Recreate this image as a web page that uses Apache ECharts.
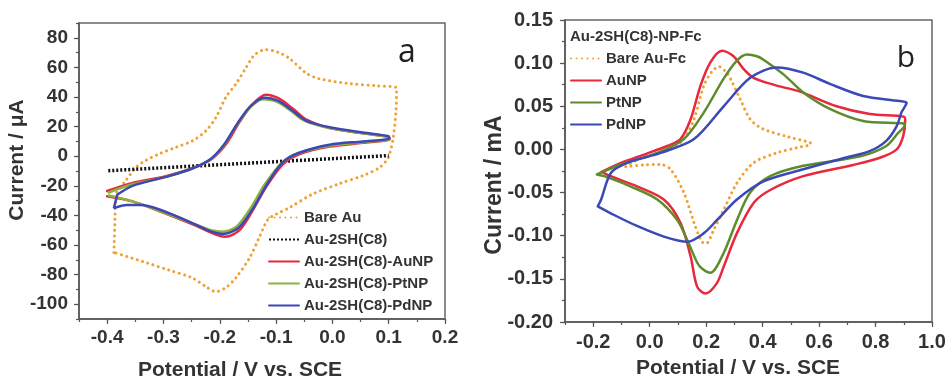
<!DOCTYPE html>
<html>
<head>
<meta charset="utf-8">
<script src="https://cdn.jsdelivr.net/npm/echarts@6/dist/echarts.min.js"></script>
<style>html,body{margin:0;padding:0;background:#fff}#c{width:951px;height:380px}</style>
</head>
<body>
<div id="c"></div>
<script>
// ---------- Panel a data (Potential V, Current µA) ----------
const aBareAu = [[-0.388,-65],[-0.386,-42],[-0.384,-25.5],[-0.367,-16.6],[-0.349,-7.6],[-0.332,-3],[-0.308,1.5],[-0.278,6],[-0.248,10.5],[-0.225,17],[-0.207,26],[-0.189,40],[-0.171,49],[-0.153,60],[-0.138,68.5],[-0.118,72],[-0.095,70],[-0.076,66],[-0.046,56],[-0.023,52.3],[0.031,49],[0.08,47.5],[0.114,46],[0.113,31],[0.108,12.5],[0.099,-1],[0.084,-7.6],[0.055,-13],[0.013,-18.5],[-0.035,-25.6],[-0.076,-34.7],[-0.100,-39.2],[-0.115,-43],[-0.130,-55],[-0.147,-68.6],[-0.171,-82],[-0.190,-89],[-0.207,-91.5],[-0.225,-88],[-0.250,-82],[-0.290,-77],[-0.330,-72],[-0.388,-65]];
const aC8 = [[-0.398,-9.8],[0.1,0.4]];
const aAuNP = [[-0.400,-23.5],[-0.355,-18],[-0.296,-13.5],[-0.248,-8],[-0.213,-1.5],[-0.189,8],[-0.165,23],[-0.142,35],[-0.118,41.5],[-0.095,39],[-0.070,32],[-0.045,24.5],[-0.005,19],[0.054,15.5],[0.100,13],[0.102,11.5],[0.054,9],[-0.005,6.5],[-0.058,1.5],[-0.088,-5.5],[-0.118,-21],[-0.142,-37],[-0.165,-50],[-0.190,-54.5],[-0.207,-53],[-0.248,-46],[-0.308,-37],[-0.355,-30.5],[-0.400,-27]];
const aPtNP = [[-0.397,-24.5],[-0.355,-19],[-0.296,-14],[-0.250,-8.5],[-0.215,-2],[-0.193,7],[-0.170,21],[-0.147,32.5],[-0.124,38.5],[-0.100,37],[-0.075,31],[-0.050,24],[-0.005,19],[0.054,15.5],[0.100,13],[0.101,11.5],[0.054,9.5],[-0.005,7],[-0.060,2],[-0.090,-4.5],[-0.120,-19],[-0.145,-35],[-0.170,-47.5],[-0.195,-51],[-0.215,-50],[-0.250,-45],[-0.310,-36.5],[-0.355,-30.5],[-0.397,-26.5]];
const aPdNP = [[-0.382,-26],[-0.355,-20],[-0.296,-14],[-0.250,-8.5],[-0.215,-1.5],[-0.192,8],[-0.168,22.5],[-0.145,34],[-0.120,39.5],[-0.097,37.5],[-0.072,31],[-0.047,24],[-0.005,19.5],[0.054,16],[0.100,13.5],[0.101,12],[0.054,10],[-0.005,7.8],[-0.058,2.5],[-0.088,-4],[-0.117,-19.5],[-0.142,-36],[-0.167,-48.5],[-0.195,-52.5],[-0.215,-51],[-0.250,-45],[-0.300,-37],[-0.340,-33],[-0.365,-33],[-0.388,-35],[-0.382,-26]];

// ---------- Panel b data (Potential V, Current mA) ----------
const bBareAuFc = [[-0.085,-0.020],[-0.043,-0.012],[0.000,-0.007],[0.040,-0.003],[0.074,0.000],[0.121,0.012],[0.157,0.035],[0.192,0.074],[0.220,0.090],[0.245,0.096],[0.270,0.090],[0.286,0.082],[0.321,0.058],[0.356,0.035],[0.400,0.024],[0.486,0.015],[0.568,0.008],[0.570,0.006],[0.521,0.002],[0.450,-0.004],[0.368,-0.0155],[0.309,-0.039],[0.262,-0.070],[0.227,-0.093],[0.200,-0.109],[0.185,-0.107],[0.157,-0.085],[0.121,-0.050],[0.074,-0.023],[0.039,-0.0175],[-0.020,-0.018],[-0.085,-0.020]];
const bAuNP = [[-0.170,-0.026],[-0.102,-0.0155],[-0.020,-0.006],[0.062,0.004],[0.109,0.012],[0.145,0.035],[0.180,0.074],[0.215,0.101],[0.256,0.1145],[0.297,0.108],[0.333,0.093],[0.368,0.083],[0.450,0.074],[0.533,0.067],[0.662,0.050],[0.780,0.041],[0.900,0.038],[0.905,0.034],[0.898,0.0155],[0.875,0.000],[0.816,-0.0097],[0.721,-0.018],[0.544,-0.031],[0.427,-0.047],[0.368,-0.062],[0.309,-0.097],[0.262,-0.136],[0.238,-0.155],[0.198,-0.167],[0.168,-0.159],[0.145,-0.124],[0.109,-0.085],[0.050,-0.058],[-0.043,-0.043],[-0.138,-0.031],[-0.170,-0.026]];
const bPtNP = [[-0.187,-0.029],[-0.102,-0.0175],[0.027,-0.004],[0.121,0.012],[0.192,0.043],[0.262,0.082],[0.309,0.103],[0.345,0.110],[0.380,0.108],[0.403,0.104],[0.474,0.087],[0.544,0.066],[0.638,0.047],[0.756,0.033],[0.900,0.030],[0.903,0.028],[0.880,0.019],[0.838,0.004],[0.746,-0.008],[0.544,-0.019],[0.427,-0.031],[0.356,-0.050],[0.309,-0.082],[0.262,-0.120],[0.215,-0.143],[0.185,-0.138],[0.168,-0.131],[0.133,-0.105],[0.098,-0.082],[0.027,-0.058],[-0.067,-0.043],[-0.161,-0.031],[-0.187,-0.029]];
const bPdNP = [[-0.184,-0.066],[-0.172,-0.058],[-0.137,-0.027],[-0.079,-0.0155],[0.039,-0.004],[0.157,0.012],[0.262,0.050],[0.356,0.083],[0.450,0.095],[0.544,0.089],[0.638,0.076],[0.756,0.062],[0.885,0.056],[0.910,0.054],[0.892,0.043],[0.875,0.027],[0.838,0.010],[0.779,-0.002],[0.700,-0.009],[0.544,-0.023],[0.403,-0.037],[0.309,-0.058],[0.238,-0.082],[0.192,-0.097],[0.133,-0.107],[0.050,-0.101],[-0.043,-0.089],[-0.126,-0.076],[-0.184,-0.066]];

// ---------- Tick labels ----------
const aXTicks = [-0.4,-0.3,-0.2,-0.1,0.0,0.1,0.2];
const aYTicks = [-100,-80,-60,-40,-20,0,20,40,60,80];
const bXTicks = [-0.2,0.0,0.2,0.4,0.6,0.8,1.0];
const bYTicks = [-0.20,-0.15,-0.10,-0.05,0.00,0.05,0.10,0.15];

const aNames = ['Bare Au','Au-2SH(C8)','Au-2SH(C8)-AuNP','Au-2SH(C8)-PtNP','Au-2SH(C8)-PdNP'];
const bNames = ['Bare Au-Fc','AuNP','PtNP','PdNP'];

const FF = '"Liberation Sans", Arial, sans-serif';
const AX = '#555';
const TXT = '#333';
const ORANGE = '#F0A030', RED = '#E8283C', GREEN_A = '#8DB43A', GREEN_B = '#5E8C2A', BLUE = '#3B48B5';

function mainX(grid, min, max, ticks, dec, fs, margin) {
  return {type:'value', gridIndex:grid, position:'bottom', min:min, max:max,
    axisLine:{show:true, onZero:false, lineStyle:{color:AX, width:1.5}},
    axisTick:{show:true, customValues:ticks, length:5, lineStyle:{color:AX, width:1.2}},
    axisLabel:{show:true, customValues:ticks, margin:margin, formatter:v=>Number(v).toFixed(dec),
      fontFamily:FF, fontWeight:'bold', fontSize:fs, color:TXT},
    splitLine:{show:false}};
}
function minorX(grid, min, max, step) {
  return {type:'value', gridIndex:grid, position:'bottom', min:min, max:max, interval:step,
    axisLine:{show:false, onZero:false}, axisTick:{show:true, length:3, lineStyle:{color:AX, width:1.2}},
    axisLabel:{show:false}, splitLine:{show:false}};
}
function mainY(grid, min, max, ticks, dec, fs, margin) {
  return {type:'value', gridIndex:grid, position:'left', min:min, max:max,
    axisLine:{show:true, onZero:false, lineStyle:{color:AX, width:1.5}},
    axisTick:{show:true, customValues:ticks, length:5, lineStyle:{color:AX, width:1.2}},
    axisLabel:{show:true, customValues:ticks, margin:margin, formatter:v=>Number(v).toFixed(dec),
      fontFamily:FF, fontWeight:'bold', fontSize:fs, color:TXT},
    splitLine:{show:false}};
}
function minorY(grid, min, max, step) {
  return {type:'value', gridIndex:grid, position:'left', min:min, max:max, interval:step,
    axisLine:{show:false, onZero:false}, axisTick:{show:true, length:3, lineStyle:{color:AX, width:1.2}},
    axisLabel:{show:false}, splitLine:{show:false}};
}
function line(name, data, xi, yi, color, width, type, smooth, cap) {
  return {name:name, type:'line', xAxisIndex:xi, yAxisIndex:yi, data:data,
    symbol:'none', showSymbol:false, smooth:smooth, clip:true,
    lineStyle:{color:color, width:width, type:type, cap:cap || 'round'}, itemStyle:{color:color}};
}

const chart = echarts.init(document.getElementById('c'), null, {renderer:'canvas'});
chart.setOption({
  animation:false,
  textStyle:{fontFamily:FF},
  grid:[
    {left:79, top:23, width:366, height:296, show:true, borderColor:'#666', borderWidth:1.5, backgroundColor:'transparent', outerBoundsMode:'none', containLabel:false},
    {left:565, top:20, width:367, height:302, show:true, borderColor:'#666', borderWidth:1.5, backgroundColor:'transparent', outerBoundsMode:'none', containLabel:false}
  ],
  xAxis:[
    mainX(0, -0.45, 0.2, aXTicks, 1, 19, 9),
    minorX(0, -0.45, 0.2, 0.05),
    mainX(1, -0.3, 1.0, bXTicks, 1, 20, 10),
    minorX(1, -0.3, 1.0, 0.1)
  ],
  yAxis:[
    mainY(0, -110, 90, aYTicks, 0, 19, 11),
    minorY(0, -110, 90, 10),
    mainY(1, -0.2, 0.15, bYTicks, 2, 20, 12),
    minorY(1, -0.2, 0.15, 0.025)
  ],
  legend:[
    {data:aNames, orient:'vertical', left:268, top:210, padding:0, itemWidth:30, itemHeight:14, itemGap:7, itemStyle:{opacity:0},
     selectedMode:false, textStyle:{fontFamily:FF, fontWeight:'bold', fontSize:15, color:TXT}},
    {data:bNames, orient:'vertical', left:570, top:51, padding:0, itemWidth:30, itemHeight:14, itemGap:7, itemStyle:{opacity:0},
     selectedMode:false, textStyle:{fontFamily:FF, fontWeight:'bold', fontSize:15, color:TXT}}
  ],
  graphic:[
    {type:'text', x:240, y:370, style:{text:'Potential / V vs. SCE', font:'bold 21px '+FF, fill:TXT, textAlign:'center', textVerticalAlign:'middle'}},
    {type:'text', x:17, y:160, rotation:Math.PI/2, style:{text:'Current / μA', font:'bold 21px '+FF, fill:TXT, textAlign:'center', textVerticalAlign:'middle'}},
    {type:'text', x:738, y:368, style:{text:'Potential / V vs. SCE', font:'bold 21px '+FF, fill:TXT, textAlign:'center', textVerticalAlign:'middle'}},
    {type:'text', x:495, y:185, rotation:Math.PI/2, style:{text:'Current / mA', font:'bold 23px '+FF, fill:TXT, textAlign:'center', textVerticalAlign:'middle'}},
    {type:'text', x:407, y:53, style:{text:'a', font:'32px "Open Sans", sans-serif', fill:'#222', textAlign:'center', textVerticalAlign:'middle'}},
    {type:'text', x:906, y:58, style:{text:'b', font:'30px "Open Sans", sans-serif', fill:'#222', textAlign:'center', textVerticalAlign:'middle'}},
    {type:'text', x:570, y:37, style:{text:'Au-2SH(C8)-NP-Fc', font:'bold 15px '+FF, fill:TXT, textAlign:'left', textVerticalAlign:'middle'}}
  ],
  series:[
    line(aNames[0], aBareAu, 0, 0, ORANGE, 3, [0.01,5.5], 0.3),
    line(aNames[1], aC8, 0, 0, '#111', 3.5, [2,2], false, 'butt'),
    line(aNames[2], aAuNP, 0, 0, RED, 2.5, 'solid', 0.3),
    line(aNames[3], aPtNP, 0, 0, GREEN_A, 2.5, 'solid', 0.3),
    line(aNames[4], aPdNP, 0, 0, BLUE, 2.5, 'solid', 0.3),
    line(bNames[0], bBareAuFc, 2, 2, ORANGE, 3, [0.01,5.5], 0.3),
    line(bNames[1], bAuNP, 2, 2, RED, 2.5, 'solid', 0.3),
    line(bNames[2], bPtNP, 2, 2, GREEN_B, 2.5, 'solid', 0.3),
    line(bNames[3], bPdNP, 2, 2, BLUE, 2.5, 'solid', 0.3)
  ]
});
</script>
</body>
</html>
